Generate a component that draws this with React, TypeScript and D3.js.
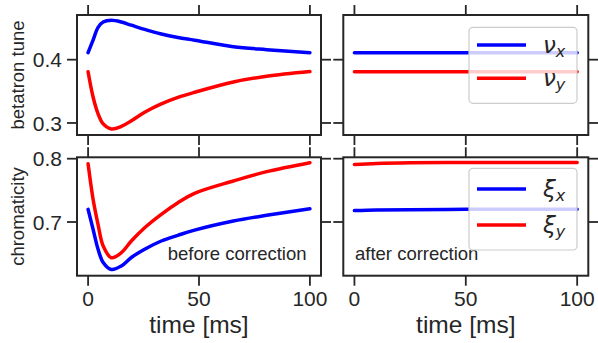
import React, { useEffect, useRef } from 'react'
import * as d3 from 'd3'

// before correction
const times = [0, 2.25, 4.5, 6.8, 10.5, 15, 19.5, 25.5, 33, 40.5, 48, 65.5, 80.5, 100]
const nuX = [0.411, 0.431, 0.451, 0.4595, 0.4622, 0.4595, 0.4545, 0.4478, 0.4405, 0.435, 0.4308, 0.4205, 0.4158, 0.411]
const nuY = [0.381, 0.341, 0.3145, 0.2985, 0.2905, 0.2945, 0.3035, 0.317, 0.3302, 0.3405, 0.3485, 0.3648, 0.3738, 0.3812]
const xiX = [0.72, 0.6885, 0.657, 0.636, 0.625, 0.6305, 0.644, 0.657, 0.67, 0.679, 0.6872, 0.7016, 0.7106, 0.721]
const xiY = [0.792, 0.736, 0.696, 0.662, 0.6436, 0.6515, 0.67, 0.691, 0.7122, 0.7305, 0.7453, 0.7648, 0.7795, 0.7937]

// after correction
const timesCorr = [0, 10, 25, 50, 75, 100]
const nuXCorr = [0.411, 0.411, 0.411, 0.411, 0.411, 0.411]
const nuYCorr = [0.381, 0.381, 0.381, 0.381, 0.381, 0.381]
const xiXCorr = [0.718, 0.719, 0.7195, 0.72, 0.72, 0.72]
const xiYCorr = [0.791, 0.7925, 0.7935, 0.794, 0.794, 0.794]

const xTicks = [0, 50, 100]
const tuneTicks = [0.3, 0.4]
const chromTicks = [0.7, 0.8]

const INK = '#262626'
const FONT = '"Liberation Sans", Arial, sans-serif'

function App() {
  const ref = useRef<SVGSVGElement>(null)

  useEffect(() => {
    const svg = d3.select(ref.current)
    svg.selectAll('*').remove()

    const colLeft = [77, 321]
    const colRight = [343.3, 588.3]
    const rowTop = [15, 135]
    const rowBot = [157.3, 275.7]

    const tuneDomain = [0.281, 0.4706]
    const chromDomain = [0.6152, 0.8022]

    const line = (x, y) => d3.line<number>()
      .x(d => x(d[0])).y(d => y(d[1]))
      .curve(d3.curveCatmullRom.alpha(0.5))

    function panel(cols, rows, domain, yTicks, series, opts) {
      const x = d3.scaleLinear().domain([-5, 105]).range(cols)
      const y = d3.scaleLinear().domain(domain).range([rows[1], rows[0]])
      const g = svg.append('g')

      series.forEach(s => {
        const pts = s.t.map((t, i) => [t, s.v[i]])
        g.append('path').attr('d', line(x, y)(pts))
          .attr('fill', 'none').attr('stroke', s.color)
          .attr('stroke-width', 3.5).attr('stroke-linecap', 'round')
      })

      // ticks on all four sides, pointing out
      xTicks.forEach(t => {
        g.append('line').attr('x1', x(t)).attr('x2', x(t))
          .attr('y1', rows[0]).attr('y2', rows[0] - 10)
          .attr('stroke', INK).attr('stroke-width', 1.8)
        g.append('line').attr('x1', x(t)).attr('x2', x(t))
          .attr('y1', rows[1]).attr('y2', rows[1] + 10)
          .attr('stroke', INK).attr('stroke-width', 1.8)
        if (opts.xLabels) {
          g.append('text').attr('x', x(t)).attr('y', 306)
            .attr('text-anchor', 'middle').attr('font-family', FONT)
            .attr('font-size', 21).attr('fill', INK).text(t)
        }
      })
      yTicks.forEach(t => {
        g.append('line').attr('x1', cols[0]).attr('x2', cols[0] - 10)
          .attr('y1', y(t)).attr('y2', y(t))
          .attr('stroke', INK).attr('stroke-width', 1.8)
        g.append('line').attr('x1', cols[1]).attr('x2', cols[1] + 10)
          .attr('y1', y(t)).attr('y2', y(t))
          .attr('stroke', INK).attr('stroke-width', 1.8)
        if (opts.yLabels) {
          g.append('text').attr('x', cols[0] - 15).attr('y', y(t)).attr('dy', '0.36em')
            .attr('text-anchor', 'end').attr('font-family', FONT)
            .attr('font-size', 21).attr('fill', INK).text(t.toFixed(1))
        }
      })

      if (opts.note) {
        g.append('text').attr('x', opts.note.x).attr('y', 260)
          .attr('text-anchor', opts.note.anchor).attr('font-family', FONT)
          .attr('font-size', 18.5).attr('fill', INK).text(opts.note.text)
      }

      if (opts.legend) {
        const L = opts.legend
        g.append('rect').attr('x', 469).attr('y', L.top)
          .attr('width', 108).attr('height', L.h).attr('rx', 4)
          .attr('fill', 'white').attr('fill-opacity', 0.8)
          .attr('stroke', '#cccccc').attr('stroke-width', 1.2)
        L.items.forEach((it, i) => {
          const yy = L.rows[i]
          g.append('line').attr('x1', 477).attr('x2', 526)
            .attr('y1', yy).attr('y2', yy)
            .attr('stroke', it.color).attr('stroke-width', 3.5)
          const txt = g.append('text').attr('x', 543).attr('y', yy + 8)
            .attr('font-family', '"DejaVu Sans", sans-serif')
            .attr('font-style', 'italic').attr('fill', INK)
          txt.append('tspan').attr('font-size', 23).text(it.sym)
          txt.append('tspan').attr('font-size', 16).attr('dy', 4).text(it.sub)
        })
      }

      g.append('rect').attr('x', cols[0]).attr('y', rows[0])
        .attr('width', cols[1] - cols[0]).attr('height', rows[1] - rows[0])
        .attr('fill', 'none').attr('stroke', INK).attr('stroke-width', 2)
    }

    panel(colLeft, rowTop, tuneDomain, tuneTicks, [
      { t: times, v: nuX, color: '#0000ff' },
      { t: times, v: nuY, color: '#ff0000' },
    ], { yLabels: true })

    panel(colRight, rowTop, tuneDomain, tuneTicks, [
      { t: timesCorr, v: nuXCorr, color: '#0000ff' },
      { t: timesCorr, v: nuYCorr, color: '#ff0000' },
    ], { legend: { top: 27.3, h: 76, rows: [45, 78.3], items: [
      { color: '#0000ff', sym: 'ν', sub: 'x' },
      { color: '#ff0000', sym: 'ν', sub: 'y' },
    ] } })

    panel(colLeft, rowBot, chromDomain, chromTicks, [
      { t: times, v: xiX, color: '#0000ff' },
      { t: times, v: xiY, color: '#ff0000' },
    ], { yLabels: true, xLabels: true, note: { x: 306.5, anchor: 'end', text: 'before correction' } })

    panel(colRight, rowBot, chromDomain, chromTicks, [
      { t: timesCorr, v: xiXCorr, color: '#0000ff' },
      { t: timesCorr, v: xiYCorr, color: '#ff0000' },
    ], { xLabels: true, note: { x: 355, anchor: 'start', text: 'after correction' },
      legend: { top: 168.3, h: 81.7, rows: [189, 225], items: [
        { color: '#0000ff', sym: 'ξ', sub: 'x' },
        { color: '#ff0000', sym: 'ξ', sub: 'y' },
      ] } })

    // axis labels
    svg.append('text').attr('transform', 'translate(24,75) rotate(-90)')
      .attr('text-anchor', 'middle').attr('font-family', FONT)
      .attr('font-size', 18.5).attr('fill', INK).text('betatron tune')
    svg.append('text').attr('transform', 'translate(24,216.5) rotate(-90)')
      .attr('text-anchor', 'middle').attr('font-family', FONT)
      .attr('font-size', 18.5).attr('fill', INK).text('chromaticity')

    ;[199, 465.8].forEach(cx => {
      svg.append('text').attr('x', cx).attr('y', 333)
        .attr('text-anchor', 'middle').attr('font-family', FONT)
        .attr('font-size', 24.5).attr('fill', INK).text('time [ms]')
    })
  }, [])

  return (
    <svg ref={ref} width={598} height={343}
      style={{ position: 'absolute', left: 0, top: 0, background: 'white' }} />
  )
}

export default App
